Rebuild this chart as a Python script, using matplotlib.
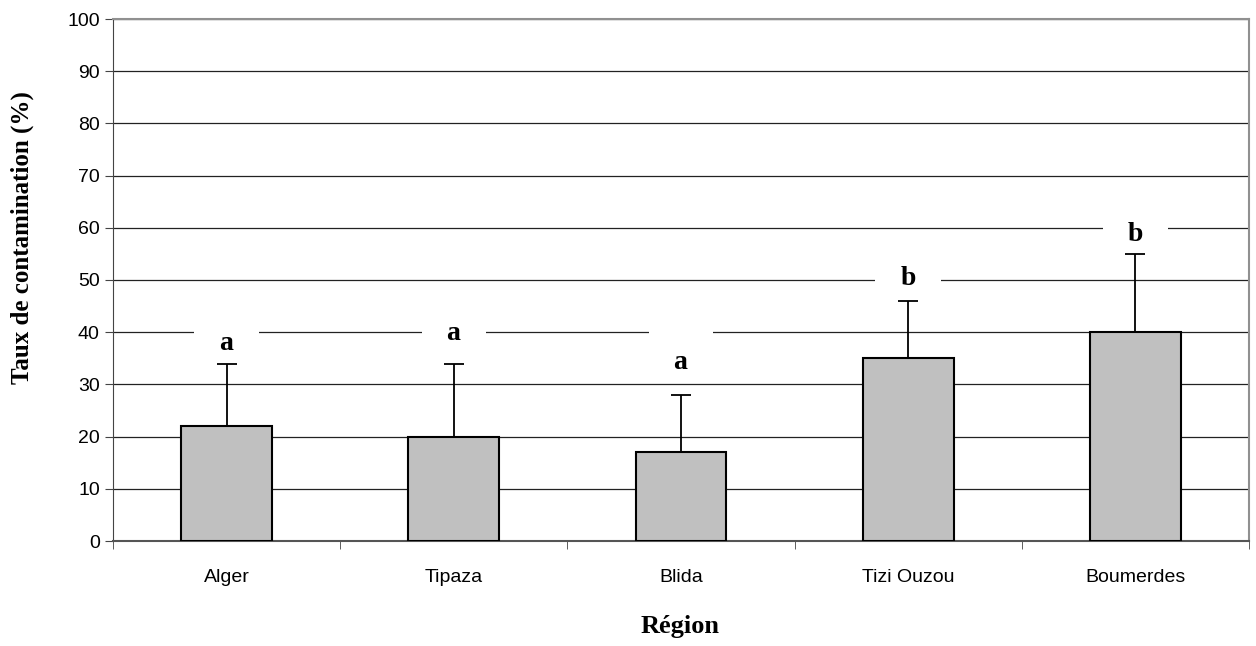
import matplotlib
matplotlib.use('Agg')
import matplotlib.pyplot as plt
import numpy as np

# données
regions = ['Alger', 'Tipaza', 'Blida', 'Tizi Ouzou', 'Boumerdes']
taux = [22, 20, 17, 35, 40]
erreur = [12, 14, 11, 11, 15]
lettres = ['a', 'a', 'a', 'b', 'b']
base_lettres = [36.5, 38.6, 32.9, 49, 57.4]   # ligne de base des lettres

fig = plt.figure(figsize=(12.56, 6.46), dpi=100)
ax = fig.add_axes([113/1256, 1 - 541/646, (1249-113)/1256, (541-19)/646])

x = np.arange(len(regions))
ax.bar(x, taux, width=0.4, color='#c0c0c0', edgecolor='black', linewidth=1.5, zorder=3)
ax.errorbar(x, taux, yerr=[np.zeros(len(erreur)), erreur], fmt='none',
            ecolor='black', elinewidth=1.3, capsize=7, capthick=1.3, zorder=3)

# étiquettes avec fond blanc (coupent le quadrillage comme dans Excel)
for xi, lt, yl in zip(x, lettres, base_lettres):
    ax.text(xi, yl, '       \n   ' + lt + '   ', ha='center', va='baseline', fontsize=20,
            fontweight='bold', family='Liberation Serif', zorder=2, linespacing=0.9,
            bbox=dict(facecolor='white', edgecolor='none', boxstyle='square,pad=0.15'))

ax.set_xlim(-0.5, len(regions) - 0.5)
ax.set_ylim(0, 100)
ax.set_yticks(range(0, 101, 10))
ax.set_xticks(x)
ax.set_xticklabels(regions, family='Liberation Sans', fontsize=14)
ax.set_xticks(np.arange(len(regions) + 1) - 0.5, minor=True)
ax.tick_params(axis='x', which='major', length=0, pad=20)
ax.tick_params(axis='x', which='minor', length=6, direction='out', color='#444444')
ax.tick_params(axis='y', length=6, direction='out', labelsize=14, color='#444444')
for lab in ax.get_yticklabels():
    lab.set_family('Liberation Sans')

ax.yaxis.grid(True, color='#222222', linewidth=0.9, zorder=0)
ax.set_axisbelow(True)
ax.spines['left'].set_color('#444444')
ax.spines['bottom'].set_color('#555555')
ax.spines['bottom'].set_linewidth(1.5)
ax.spines['top'].set_color('#909090')
ax.spines['top'].set_linewidth(1.5)
ax.spines['right'].set_color('#909090')
ax.spines['right'].set_linewidth(1.5)

fig.text(22/1256, 1 - 238/646, 'Taux de contamination (%)', rotation=90, ha='center', va='center',
         family='Liberation Serif', fontweight='bold', fontsize=18)
fig.text(680/1256, 1 - 627/646, 'Région', ha='center', va='center',
         family='Liberation Serif', fontweight='bold', fontsize=19)

fig.savefig('out.png', dpi=100)
